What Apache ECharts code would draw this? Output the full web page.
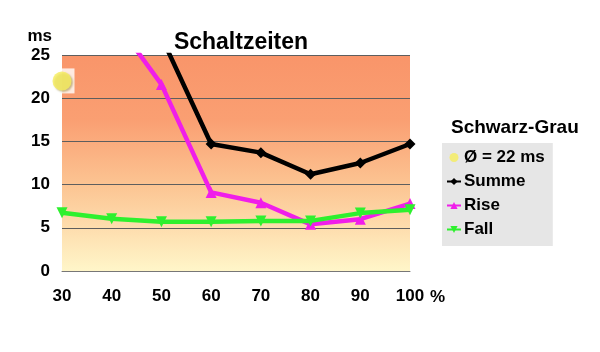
<!DOCTYPE html>
<html>

<head>
  <meta charset="utf-8">
  <script src="https://cdn.jsdelivr.net/npm/echarts@6.0.0/dist/echarts.min.js"></script>
  <style>
    body {
      margin: 0;
      background: #fff;
    }

    #chart {
      width: 600px;
      height: 352px;
    }
  </style>
</head>

<body>
  <div id="chart"></div>
  <script>
    // Auslastung in %
    const xWerte = [30, 40, 50, 60, 70, 80, 90, 100]
    const summe = [null, 35.5, 27.1, 14.7, 13.7, 11.2, 12.5, 14.7]
    const rise = [null, 29.5, 21.6, 9.1, 7.9, 5.4, 6.0, 7.8]
    const fall = [6.75, 6.05, 5.7, 5.7, 5.8, 5.8, 6.7, 7.1]
    const mittel = [[30, 22]]
    const yTicks = [0, 5, 10, 15, 20, 25]

    const fontFam = '"Liberation Sans", Arial, sans-serif'

    function paare(werte) {
      return xWerte.map((x, i) => [x, werte[i]])
    }

    const option = {
      animation: false,
      textStyle: { fontFamily: fontFam },
      title: [{
        text: 'Schaltzeiten',
        left: 236,
        top: 26,
        textAlign: 'center',
        textStyle: { fontSize: 23, fontWeight: 'bold', color: '#000', fontFamily: fontFam }
      }, {
        text: 'Schwarz-Grau',
        left: 446,
        top: 113,
        textStyle: { fontSize: 19, fontWeight: 'bold', color: '#000', fontFamily: fontFam }
      }],
      legend: {
        orient: 'vertical',
        left: 442,
        top: 143,
        padding: [6, 8, 8, 4],
        itemGap: 7,
        itemWidth: 14,
        itemHeight: 9,
        backgroundColor: '#E6E6E6',
        data: ['Ø = 22 ms', 'Summe', 'Rise', 'Fall'],
        textStyle: { fontSize: 17, fontWeight: 'bold', color: '#000', fontFamily: fontFam, padding: [0, 0, 0, -2] }
      },
      grid: {
        left: 62, right: 190, top: 55, bottom: 81,
        show: true,
        borderWidth: 0,
        backgroundColor: {
          type: 'linear', x: 0, y: 0, x2: 0, y2: 1,
          colorStops: [
            { offset: 0, color: '#F9956A' },
            { offset: 0.3, color: '#FA9F72' },
            { offset: 0.6, color: '#FCC492' },
            { offset: 1, color: '#FFF6C9' }
          ]
        }
      },
      xAxis: {
        type: 'value',
        min: 30,
        max: 100,
        interval: 10,
        name: '%',
        nameLocation: 'end',
        nameGap: 20,
        nameTextStyle: { fontSize: 17, fontWeight: 'bold', color: '#000', verticalAlign: 'top', padding: [18, 0, 0, 0] },
        axisLine: { lineStyle: { color: '#777', width: 1 } },
        axisTick: { show: false },
        splitLine: { show: false },
        axisLabel: { fontSize: 17, fontWeight: 'bold', color: '#000', margin: 17 }
      },
      yAxis: {
        type: 'value',
        min: yTicks[0],
        max: yTicks[yTicks.length - 1],
        interval: 5,
        name: 'ms',
        nameLocation: 'end',
        nameGap: 10,
        nameTextStyle: { fontSize: 17, fontWeight: 'bold', color: '#000', align: 'right', padding: [0, 10, 0, 0] },
        axisLine: { show: false },
        axisTick: { show: false },
        axisLabel: { fontSize: 17, fontWeight: 'bold', color: '#000', margin: 12 },
        splitLine: { lineStyle: { color: '#5e5e5e', width: 1 } }
      },
      series: [{
        name: 'weiss',
        type: 'scatter',
        silent: true,
        data: mittel,
        symbol: 'rect',
        symbolSize: 25,
        itemStyle: { color: '#fff' },
        z: 3
      }, {
        name: 'Ø = 22 ms',
        type: 'scatter',
        data: mittel,
        symbol: 'circle',
        symbolSize: 19,
        itemStyle: {
          color: '#F6EE5C',
          shadowColor: 'rgba(120,100,0,0.5)',
          shadowBlur: 2,
          shadowOffsetX: 1.5,
          shadowOffsetY: 1.5
        },
        z: 4
      }, {
        name: 'Summe',
        type: 'line',
        data: paare(summe),
        symbol: 'diamond',
        symbolSize: 11,
        color: '#000',
        lineStyle: { width: 4.5, color: '#000' },
        itemStyle: { color: '#000' },
        z: 5
      }, {
        name: 'Rise',
        type: 'line',
        data: paare(rise),
        symbol: 'triangle',
        symbolSize: 11,
        color: '#F01EEA',
        lineStyle: { width: 4.5, color: '#F01EEA' },
        itemStyle: { color: '#F01EEA' },
        z: 5
      }, {
        name: 'Fall',
        type: 'line',
        data: paare(fall),
        symbol: 'triangle',
        symbolRotate: 180,
        symbolSize: 11,
        color: '#2EF02E',
        lineStyle: { width: 4.5, color: '#2EF02E' },
        itemStyle: { color: '#2EF02E' },
        z: 6
      }]
    }

    const chart = echarts.init(document.getElementById('chart'))
    chart.setOption(option)
  </script>
</body>

</html>
